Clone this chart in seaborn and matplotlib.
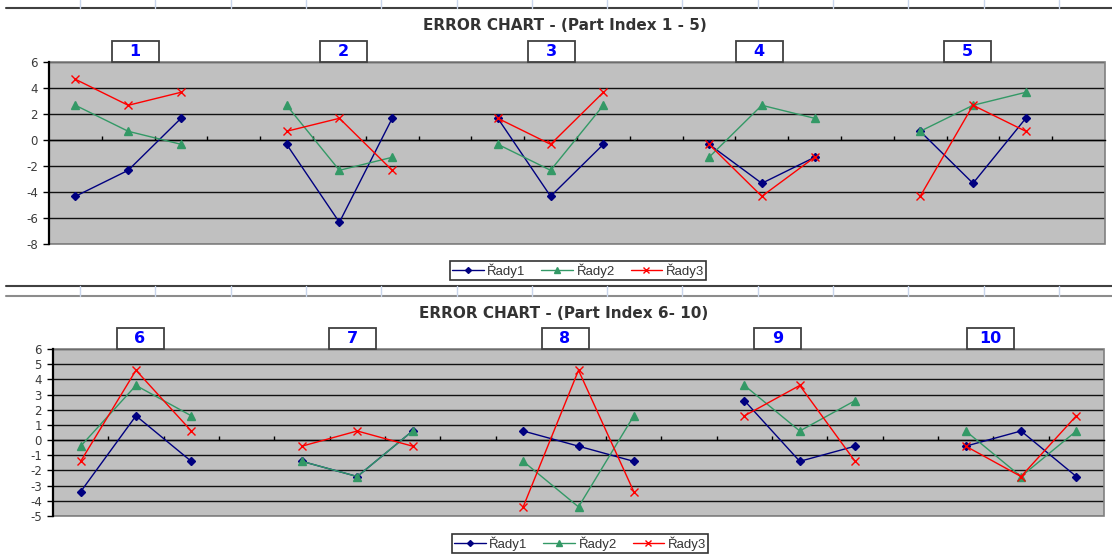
import numpy as np
import pandas as pd
import matplotlib
matplotlib.use("Agg")
import matplotlib.pyplot as plt
from matplotlib.lines import Line2D
from matplotlib.patches import Rectangle
import seaborn as sns

# ---- data -------------------------------------------------------------
series_names = ["Řady1", "Řady2", "Řady3"]

parts_top = ["1", "2", "3", "4", "5"]
top_r1 = [-4.33, -2.33, 1.67, -0.33, -6.33, 1.67, 1.67, -4.33, -0.33,
          -0.33, -3.33, -1.33, 0.67, -3.33, 1.67]
top_r2 = [2.67, 0.67, -0.33, 2.67, -2.33, -1.33, -0.33, -2.33, 2.67,
          -1.33, 2.67, 1.67, 0.67, 2.67, 3.67]
top_r3 = [4.67, 2.67, 3.67, 0.67, 1.67, -2.33, 1.67, -0.33, 3.67,
          -0.33, -4.33, -1.33, -4.33, 2.67, 0.67]

parts_bot = ["6", "7", "8", "9", "10"]
bot_r1 = [-3.4, 1.6, -1.4, -1.4, -2.4, 0.6, 0.6, -0.4, -1.4,
          2.6, -1.4, -0.4, -0.4, 0.6, -2.4]
bot_r2 = [-0.4, 3.6, 1.6, -1.4, -2.4, 0.6, -1.4, -4.4, 1.6,
          3.6, 0.6, 2.6, 0.6, -2.4, 0.6]
bot_r3 = [-1.4, 4.6, 0.6, -0.4, 0.6, -0.4, -4.4, 4.6, -3.4,
          1.6, 3.6, -1.4, -0.4, -2.4, 1.6]

top_title = "ERROR CHART - (Part Index 1 - 5)"
bot_title = "ERROR CHART - (Part Index 6- 10)"

# ---- styling ------------------------------------------------------------
sns.set_style("white")
plt.rcParams["font.family"] = ["Liberation Sans", "DejaVu Sans"]
plt.rcParams["axes.unicode_minus"] = False

colors = {"Řady1": "#000080", "Řady2": "#339966", "Řady3": "#FF0000"}
markers = {"Řady1": "D", "Řady2": "^", "Řady3": "x"}
msizes = {"Řady1": 4, "Řady2": 6, "Řady3": 6}

W, H = 1112, 555
fig = plt.figure(figsize=(W / 100, H / 100), dpi=100)


def long_frame(parts, values_by_series, per_part=3, stride=4):
    rows = []
    for s, vals in zip(series_names, values_by_series):
        for i, v in enumerate(vals):
            p, j = divmod(i, per_part)
            rows.append({"part": parts[p], "pos": p * stride + j,
                         "series": s, "value": v})
    return pd.DataFrame(rows)


def px_axes(left, top, right, bottom):
    return fig.add_axes([left / W, 1 - bottom / H, (right - left) / W,
                         (bottom - top) / H])


def draw_chart(ax, df, ncat, ymin, ymax, ystep):
    ax.set_facecolor("#C0C0C0")
    for s in series_names:
        sub = df[df["series"] == s]
        sns.lineplot(data=sub, x="pos", y="value", units="part",
                     estimator=None, sort=True, ax=ax, legend=False,
                     color=colors[s], marker=markers[s],
                     markersize=msizes[s], markeredgecolor=colors[s],
                     markerfacecolor=colors[s], markeredgewidth=1,
                     linewidth=1, zorder=3)
    ax.set_xlim(-0.5, ncat - 0.5)
    ax.set_ylim(ymin, ymax)
    ax.set_yticks(np.arange(ymin, ymax + ystep / 2, ystep))
    ax.set_xticks(np.arange(0.5, ncat - 0.5, 1.0))
    ax.set_xticklabels([])
    ax.set_xlabel("")
    ax.set_ylabel("")
    ax.yaxis.grid(True, color="#111111", linewidth=1)
    ax.xaxis.grid(False)
    ax.set_axisbelow(True)
    for side in ("top", "right"):
        ax.spines[side].set_visible(False)
    ax.spines["bottom"].set_position(("data", 0))
    ax.spines["bottom"].set_color("black")
    ax.spines["bottom"].set_linewidth(1)
    ax.spines["left"].set_color("black")
    ax.spines["left"].set_linewidth(1.6)
    ax.tick_params(axis="x", direction="in", length=3, width=1,
                   color="black", bottom=True)
    ax.tick_params(axis="y", direction="out", length=4, width=1,
                   color="black", left=True, labelsize=9.5,
                   labelcolor="#3a3a3a", pad=4)
    for lab in ax.get_yticklabels():
        lab.set_fontfamily(["DejaVu Sans"])
        lab.set_fontsize(8.5)
    ax.add_patch(Rectangle((0, 0), 1, 1, transform=ax.transAxes,
                           fill=False, edgecolor="#808080", linewidth=1.2,
                           zorder=1, clip_on=False))


def part_boxes(labels, centers, top, bottom):
    for lab, cx in zip(labels, centers):
        x0 = (cx - 23.5) / W
        fig.patches.append(Rectangle((x0, 1 - bottom / H), 47 / W,
                                     (bottom - top) / H,
                                     transform=fig.transFigure,
                                     facecolor="white", edgecolor="#404040",
                                     linewidth=1.3, zorder=5))
        fig.text(cx / W, 1 - (top + bottom) / 2 / H, lab, ha="center",
                 va="center", color="#0000FF", fontsize=11.5,
                 fontweight="bold", zorder=6, family=["DejaVu Sans"])


def legend_at(cx, cy):
    handles = [Line2D([], [], color=colors[s], marker=markers[s],
                      markersize=msizes[s] - 1, markeredgecolor=colors[s],
                      markerfacecolor=colors[s], linewidth=1)
               for s in series_names]
    leg = fig.legend(handles, series_names, loc="center",
                     bbox_to_anchor=(cx / W, 1 - cy / H), ncol=3,
                     fontsize=9.5, frameon=True, fancybox=False,
                     edgecolor="black", handlelength=2.4, handletextpad=0.25,
                     columnspacing=1.2, borderpad=0.2, labelcolor="#333333")
    leg.get_frame().set_linewidth(1.2)


# ---- worksheet background lines ---------------------------------------
def sheet_lines(y_dark, y_light=None):
    fig.add_artist(Line2D([6 / W, 1], [1 - y_dark / H] * 2,
                          transform=fig.transFigure, color="#404040",
                          linewidth=1.5))
    y_top = 0 if y_light is None else y_dark
    y_bot = y_dark if y_light is None else y_light
    if y_light is not None:
        fig.add_artist(Line2D([6 / W, 1], [1 - y_light / H] * 2,
                              transform=fig.transFigure, color="#8C8C8C",
                              linewidth=1.5))
    for xv in np.arange(80, W, 75.3):
        fig.add_artist(Line2D([xv / W] * 2, [1 - y_top / H, 1 - y_bot / H],
                              transform=fig.transFigure, color="#C9D6EC",
                              linewidth=1))


sheet_lines(7.5)
sheet_lines(285.5, 296)

# ---- upper chart ------------------------------------------------------------
ax1 = px_axes(49, 62, 1105, 244)
df_top = long_frame(parts_top, [top_r1, top_r2, top_r3])
draw_chart(ax1, df_top, 20, -8, 6, 2)
fig.text(565 / W, 1 - 25 / H, top_title, ha="center", va="center",
         fontsize=11, fontweight="bold", color="#333333",
         family=["DejaVu Sans"])
part_boxes(parts_top, [135 + 208 * i for i in range(5)], 41, 62)
legend_at(578, 270.5)

# ---- lower chart ------------------------------------------------------------
ax2 = px_axes(53, 349, 1104, 516)
df_bot = long_frame(parts_bot, [bot_r1, bot_r2, bot_r3])
draw_chart(ax2, df_bot, 19, -5, 6, 1)
fig.text(564 / W, 1 - 313 / H, bot_title, ha="center", va="center",
         fontsize=11, fontweight="bold", color="#333333",
         family=["DejaVu Sans"])
part_boxes(parts_bot, [140 + 212.5 * i for i in range(5)], 328, 349)
legend_at(580, 543.5)

fig.savefig("out.png", dpi=100)
